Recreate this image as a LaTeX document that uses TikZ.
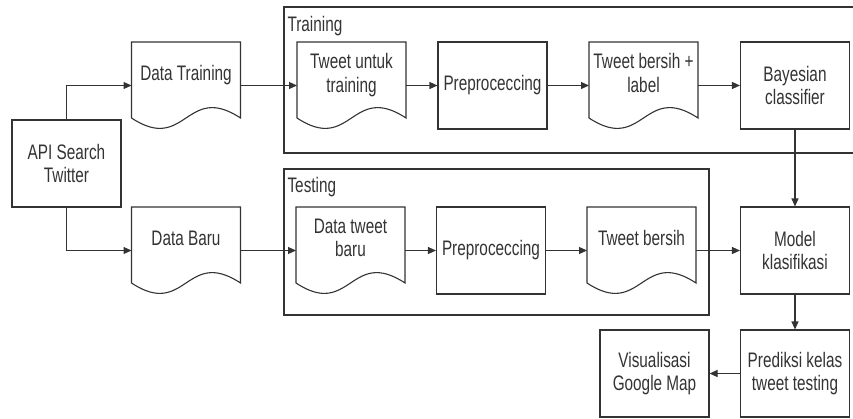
\documentclass[tikz,border=0pt]{standalone}
\usepackage{fontspec}
\setmainfont{Liberation Sans}[FakeStretch=0.73]
\usetikzlibrary{arrows.meta}
\begin{document}
\begin{tikzpicture}[x=1pt,y=-1pt,line width=1.1pt,color=black!80,
  every node/.style={font=\fontsize{21}{23.5}\selectfont,align=center},
  proc/.style={draw,minimum width=109pt,minimum height=87pt,inner xsep=2pt},
  doc/.style={minimum width=109pt,minimum height=87pt,inner xsep=2pt,outer sep=0pt,text depth=25pt},
  flow/.style={-{Triangle[length=8pt,width=7pt]}}]
\useasboundingbox (0,0) rectangle (853,418);
% groups
\draw (284,7) rectangle (870,153);
\node[anchor=north west,inner sep=1pt] (lbltrain) at (286,15) {Training};
\draw (284,169) rectangle (709,315);
\node[anchor=north west,inner sep=1pt] (lbltest) at (286,176) {Testing};
% training row
\node[proc] (api) at (66.5,163.5) {API Search\\Twitter};
\node[doc] (dtrain) at (186,85.5) {Data Training};
\node[doc] (twtrain) at (351.5,85.5) {Tweet untuk\\training};
\node[proc] (prtrain) at (492.5,85.5) {Preproceccing};
\node[doc] (twlabel) at (643.5,85.5) {Tweet bersih +\\label};
\node[proc] (bayes) at (795,85.5) {Bayesian\\classifier};
% testing row
\node[doc] (dbaru) at (186,250.5) {Data Baru};
\node[doc] (twbaru) at (350.5,250.5) {Data tweet\\baru};
\node[proc] (prtest) at (491,250.5) {Preproceccing};
\node[doc] (twclean) at (641.5,250.5) {Tweet bersih};
\node[proc] (model) at (795,250.5) {Model\\klasifikasi};
% output
\node[proc] (pred) at (795,373.5) {Prediksi kelas\\tweet testing};
\node[proc] (vis) at (654.5,373.5) {Visualisasi\\Google Map};
% document outlines
\foreach \n in {dtrain,twtrain,twlabel,dbaru,twbaru,twclean}
  \draw (\n.north west) -- (\n.north east) -- ++(0,76)
    .. controls +(-54.5,-36) and +(54.5,36) .. ++(-109,0) -- cycle;
% arrows
\draw[flow] (api.north) |- (dtrain.west);
\draw[flow] (api.south) |- (dbaru.west);
\draw[flow] (dtrain.east) -- (twtrain.west);
\draw[flow] (twtrain.east) -- (prtrain.west);
\draw[flow] (prtrain.east) -- (twlabel.west);
\draw[flow] (twlabel.east) -- (bayes.west);
\draw[flow] (dbaru.east) -- (twbaru.west);
\draw[flow] (twbaru.east) -- (prtest.west);
\draw[flow] (prtest.east) -- (twclean.west);
\draw[flow] (twclean.east) -- (model.west);
\draw[flow] (bayes.south) -- (model.north);
\draw[flow] (model.south) -- (pred.north);
\draw[flow] (pred.west) -- (vis.east);
\end{tikzpicture}
\end{document}
